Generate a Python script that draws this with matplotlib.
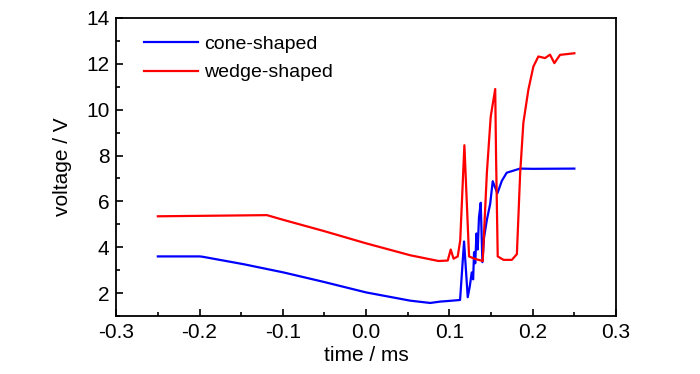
import matplotlib.pyplot as plt
from matplotlib.ticker import MultipleLocator

plt.rcParams['font.family'] = ['Liberation Sans', 'DejaVu Sans']

# cone-shaped probe signal (time in ms, voltage in V)
cone_t = [-0.25, -0.2, -0.197, -0.147, -0.099, -0.051, 0.0, 0.053, 0.077, 0.089, 0.1, 0.1128,
          0.1176, 0.122, 0.1245, 0.1268, 0.1285, 0.1296, 0.131, 0.1325, 0.134, 0.1355, 0.1376,
          0.1396, 0.1415, 0.145, 0.149, 0.152, 0.1576, 0.163, 0.1688, 0.1848, 0.2, 0.25]
cone_v = [3.6, 3.6, 3.59, 3.26, 2.9, 2.49, 2.03, 1.67, 1.57, 1.63, 1.66, 1.7,
          4.25, 1.82, 2.3, 2.9, 2.6, 3.78, 3.3, 4.6, 3.9, 5.3, 5.94,
          3.35, 4.4, 5.2, 5.9, 6.88, 6.35, 6.9, 7.25, 7.43, 7.42, 7.43]

# wedge-shaped probe signal
wedge_t = [-0.25, -0.119, -0.099, -0.051, 0.0, 0.053, 0.087, 0.098, 0.1016, 0.105, 0.11, 0.113,
           0.118, 0.1236, 0.13, 0.14, 0.145, 0.1496, 0.155, 0.156, 0.158, 0.165, 0.175,
           0.181, 0.185, 0.1888, 0.1948, 0.2008, 0.2068, 0.2148, 0.2208, 0.226, 0.2328, 0.25]
wedge_v = [5.35, 5.4, 5.19, 4.71, 4.17, 3.65, 3.4, 3.42, 3.9, 3.5, 3.6, 4.3,
           8.45, 3.6, 3.5, 3.4, 7.26, 9.7, 10.9, 8.0, 3.6, 3.45, 3.45,
           3.7, 7.26, 9.43, 10.87, 11.88, 12.32, 12.25, 12.4, 12.03, 12.39, 12.46]

fig = plt.figure(figsize=(7, 3.74), dpi=100)
ax = fig.add_axes([0.166, 0.155, 0.714, 0.797])

ax.plot(cone_t, cone_v, color='#0000ff', lw=1.6, label='cone-shaped')
ax.plot(wedge_t, wedge_v, color='#ff0000', lw=1.6, label='wedge-shaped')

ax.set_xlim(-0.3, 0.3)
ax.set_ylim(1, 14)
ax.xaxis.set_minor_locator(MultipleLocator(0.05))
ax.yaxis.set_minor_locator(MultipleLocator(1))
ax.set_xticks([-0.3, -0.2, -0.1, 0.0, 0.1, 0.2, 0.3])
ax.set_xticklabels(['-0.3', '-0.2', '-0.1', '0.0', '0.1', '0.2', '0.3'])
ax.set_yticks([2, 4, 6, 8, 10, 12, 14])
ax.tick_params(direction='in', which='major', length=5, width=1.2, labelsize=15, pad=5)
ax.tick_params(direction='in', which='minor', length=3, width=1.2)
for s in ax.spines.values():
    s.set_linewidth(1.3)

ax.set_xlabel('time / ms', fontsize=15, labelpad=3)
ax.set_ylabel('voltage / V', fontsize=15, labelpad=10)
ax.legend(loc='upper left', bbox_to_anchor=(0.02, 1), frameon=False, fontsize=14,
          handlelength=2.8, handletextpad=0.3, labelspacing=0.55, borderaxespad=0.5)

fig.savefig('out.png', dpi=100)
